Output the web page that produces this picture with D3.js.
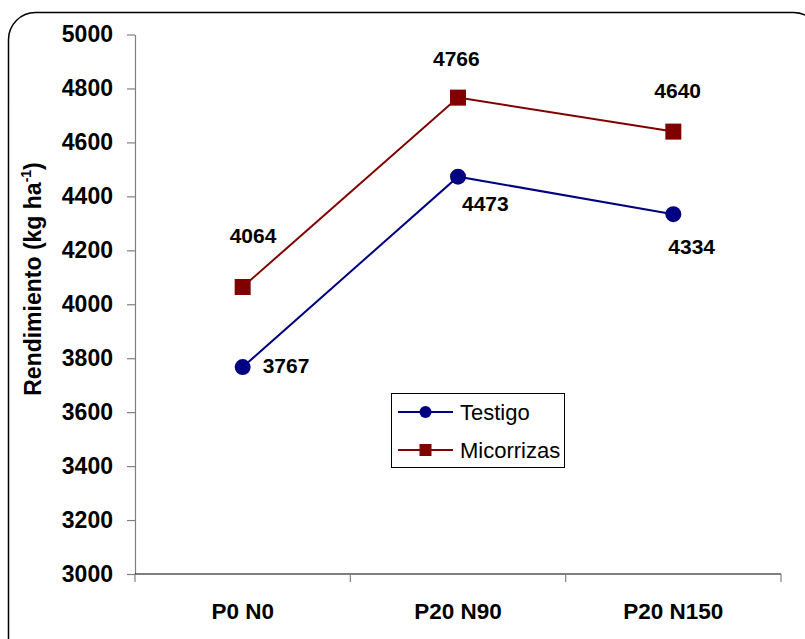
<!DOCTYPE html>
<html>
<head>
<meta charset="utf-8">
<script src="https://cdn.jsdelivr.net/npm/d3@7"></script>
<style>
  html, body { margin: 0; padding: 0; background: #fff; }
  svg { display: block; font-family: "Liberation Sans", Arial, sans-serif; }
</style>
</head>
<body>
<svg id="chart" width="805" height="639"></svg>
<script>
const categories = ["P0 N0", "P20 N90", "P20 N150"];
const testigo = [3767, 4473, 4334];
const micorrizas = [4064, 4766, 4640];
const yTicks = [3000, 3200, 3400, 3600, 3800, 4000, 4200, 4400, 4600, 4800, 5000];
const seriesNames = ["Testigo", "Micorrizas"];

// label placement (style, not data): [dx, dy] relative to the marker
const labelOffsets = {
  Testigo: [[20, 6], [4, 34], [-5, 40]],
  Micorrizas: [[-13, -43.5], [-25, -32], [-19, -34]]
};

(function () {
const svg = d3.select("#chart");
const mLeft = 135, mRight = 781, mTop = 34.5, mBottom = 574;

// outer rounded frame
svg.append("rect")
  .attr("x", 8.5).attr("y", 12.5)
  .attr("width", 812).attr("height", 655)
  .attr("rx", 27).attr("ry", 27)
  .attr("fill", "none").attr("stroke", "#000").attr("stroke-width", 1.5);

const x = d3.scaleBand().domain(categories).range([mLeft, mRight]).padding(0);
const y = d3.scaleLinear().domain([3000, 5000]).range([mBottom, mTop]);
const cx = c => x(c) + x.bandwidth() / 2;

// Y axis
const yAxis = d3.axisLeft(y).tickValues(yTicks).tickFormat(d3.format("d"))
  .tickSize(8).tickSizeOuter(0).tickPadding(14);
const gy = svg.append("g").attr("transform", `translate(${mLeft},0)`).call(yAxis);
gy.select(".domain").attr("stroke", "#808080").attr("stroke-width", 1.2);
gy.selectAll(".tick line").attr("stroke", "#808080").attr("stroke-width", 1.2);
gy.selectAll(".tick text")
  .attr("font-size", 23).attr("font-weight", "bold").attr("fill", "#000")
  .attr("font-family", "Liberation Sans, Arial, sans-serif");

// X axis line + boundary ticks
const gx = svg.append("g").attr("transform", `translate(0,${mBottom})`);
gx.append("line").attr("x1", mLeft).attr("x2", mRight).attr("y1", 0).attr("y2", 0)
  .attr("stroke", "#000").attr("stroke-width", 1.2);
const bounds = categories.map(c => x(c)).concat([mRight]);
gx.selectAll("line.tk").data(bounds).enter().append("line")
  .attr("class", "tk")
  .attr("x1", d => d).attr("x2", d => d).attr("y1", 0).attr("y2", 8)
  .attr("stroke", "#808080").attr("stroke-width", 1.2);
gx.selectAll("text").data(categories).enter().append("text")
  .attr("x", d => cx(d)).attr("y", 619 - mBottom)
  .attr("text-anchor", "middle")
  .attr("font-size", 22.5).attr("font-weight", "bold").attr("fill", "#000")
  .text(d => d);

// Y axis title
const title = svg.append("text")
  .attr("transform", `translate(41,${279}) rotate(-90)`)
  .attr("text-anchor", "middle")
  .attr("font-size", 23).attr("font-weight", "bold").attr("fill", "#000");
title.append("tspan").text("Rendimiento (kg ha");
title.append("tspan").attr("font-size", 14).attr("dy", -10).text("-1");
title.append("tspan").attr("dy", 10).text(")");

const line = d3.line().x((d, i) => cx(categories[i])).y(d => y(d));

const series = [
  { name: "Testigo", values: testigo, color: "#000080", shape: "circle" },
  { name: "Micorrizas", values: micorrizas, color: "#800000", shape: "square" }
];

series.forEach(s => {
  svg.append("path").datum(s.values)
    .attr("d", line).attr("fill", "none")
    .attr("stroke", s.color).attr("stroke-width", 2);
  const g = svg.append("g");
  s.values.forEach((v, i) => {
    const px = cx(categories[i]), py = y(v);
    if (s.shape === "circle") {
      g.append("circle").attr("cx", px).attr("cy", py).attr("r", 8).attr("fill", s.color);
    } else {
      g.append("rect").attr("x", px - 8).attr("y", py - 8).attr("width", 16).attr("height", 16).attr("fill", s.color);
    }
    const off = labelOffsets[s.name][i];
    svg.append("text")
      .attr("x", px + off[0]).attr("y", py + off[1])
      .attr("font-size", 21).attr("font-weight", "bold").attr("fill", "#000")
      .text(v);
  });
});

// Legend
const lg = svg.append("g");
lg.append("rect").attr("x", 391.5).attr("y", 393.5).attr("width", 173).attr("height", 74)
  .attr("fill", "#fff").attr("stroke", "#000").attr("stroke-width", 1);
const legY = [412, 450];
series.forEach((s, i) => {
  const yy = legY[i];
  lg.append("line").attr("x1", 398).attr("x2", 453).attr("y1", yy).attr("y2", yy)
    .attr("stroke", s.color).attr("stroke-width", 2);
  if (s.shape === "circle") {
    lg.append("circle").attr("cx", 425.5).attr("cy", yy).attr("r", 6).attr("fill", s.color);
  } else {
    lg.append("rect").attr("x", 419.5).attr("y", yy - 6).attr("width", 12).attr("height", 12).attr("fill", s.color);
  }
  lg.append("text").attr("x", 460).attr("y", yy).attr("dy", "0.35em")
    .attr("font-size", 22).attr("fill", "#000").text(seriesNames[i]);
});
})();
</script>
</body>
</html>
